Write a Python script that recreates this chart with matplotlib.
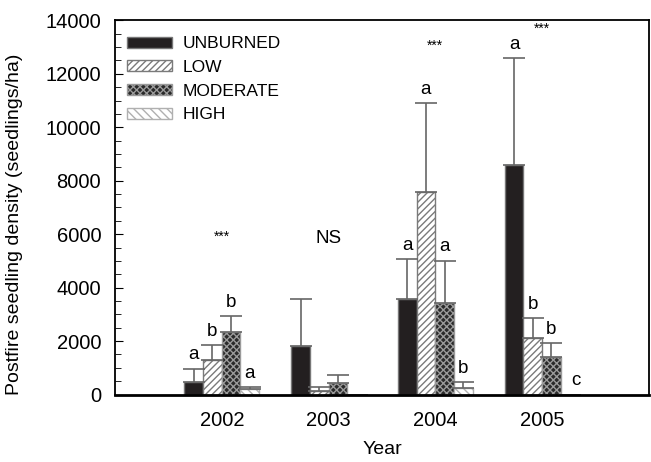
import numpy as np
import matplotlib
matplotlib.use("Agg")
import matplotlib.pyplot as plt
from matplotlib.ticker import MultipleLocator

plt.rcParams["font.family"] = ["Liberation Sans", "DejaVu Sans"]

years = [2002, 2003, 2004, 2005]
classes = ["UNBURNED", "LOW", "MODERATE", "HIGH"]

# mean seedling density (seedlings/ha)
unburned = [480, 1830, 3560, 8590]
low = [1290, 130, 7590, 2100]
moderate = [2330, 440, 3410, 1415]
high = [195, 0, 230, 0]

# upper error (SE) values
unburned_err = [490, 1745, 1510, 3990]
low_err = [560, 150, 3310, 750]
moderate_err = [610, 280, 1600, 500]
high_err = [85, 0, 225, 0]

# letters over bars
letters = [
    ["a", "", "a", "a"],
    ["b", "", "a", "b"],
    ["b", "", "a", "b"],
    ["a", "", "b", "c"],
]
sig = ["***", "NS", "***", "***"]
sig_y = [5900, 5850, 13050, 13700]

means = [unburned, low, moderate, high]
errs = [unburned_err, low_err, moderate_err, high_err]

styles = [
    dict(facecolor="#231f20", edgecolor="#777777", hatch=None),
    dict(facecolor="white", edgecolor="#7a7a7a", hatch="/////"),
    dict(facecolor="#2a2a2a", edgecolor="#9a9a9a", hatch="xxxxx"),
    dict(facecolor="white", edgecolor="#b0b0b0", hatch="\\\\\\\\"),
]

fig = plt.figure(figsize=(6.51, 4.62), dpi=100)
ax = fig.add_axes([0.1767, 0.146, 0.82, 0.81])

x = np.array(years, dtype=float)
w = 0.175
offsets = (np.arange(4) - 1.5) * w

for i in range(4):
    pos = x + offsets[i]
    ax.bar(pos, means[i], width=w, label=classes[i], linewidth=1.0,
           **styles[i])
    ax.errorbar(pos, means[i], yerr=[np.zeros(4), errs[i]], fmt="none",
                ecolor="#666666", elinewidth=1.2, capsize=8, capthick=1.2)
    for j in range(4):
        if letters[i][j] == "":
            continue
        top = means[i][j] + errs[i][j]
        if letters[i][j] == "c":
            ax.text(pos[j] + 0.05, 200, "c", ha="center", va="bottom",
                    fontsize=13.5)
        else:
            ax.text(pos[j], top + 200, letters[i][j], ha="center",
                    va="bottom", fontsize=13.5)

for j in range(4):
    fs = 13.5 if sig[j] == "NS" else 10
    ax.text(x[j], sig_y[j], sig[j], ha="center", va="center", fontsize=fs)

ax.set_xlim(2001, 2006)
ax.set_ylim(0, 14000)
ax.set_xticks(years)
ax.set_xticklabels([str(y) for y in years])
ax.yaxis.set_major_locator(MultipleLocator(2000))
ax.yaxis.set_minor_locator(MultipleLocator(500))
ax.tick_params(axis="y", which="major", direction="in", length=6,
               labelsize=14.5, pad=10)
ax.tick_params(axis="y", which="minor", direction="in", length=4)
ax.tick_params(axis="x", length=0, labelsize=14.5, pad=12)
ax.tick_params(right=False, top=False)

for s in ax.spines.values():
    s.set_linewidth(1.3)
ax.spines["bottom"].set_linewidth(2)

ax.set_xlabel("Year", fontsize=14, labelpad=8)
ax.set_ylabel("Postfire seedling density (seedlings/ha)", fontsize=14)
ax.yaxis.set_label_coords(-0.172, 0.455)

ax.legend(loc="upper left", frameon=False, fontsize=12.5, handlelength=2.6,
          handleheight=0.6, handletextpad=0.6, labelspacing=0.5,
          borderaxespad=0.3, bbox_to_anchor=(0.0, 0.99))

fig.savefig("out.png", dpi=100)
